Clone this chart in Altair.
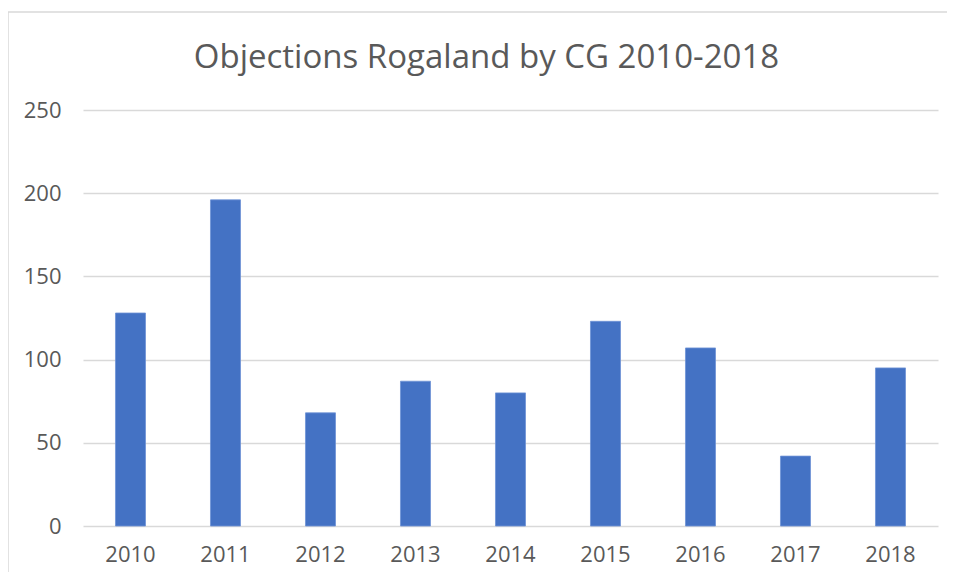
import altair as alt
import pandas as pd

years = ["2010", "2011", "2012", "2013", "2014", "2015", "2016", "2017", "2018"]
objections = [128, 196, 68, 87, 80, 123, 107, 42, 95]

df = pd.DataFrame({"year": years, "objections": objections})

FONT = "Open Sans"
GRAY = "#595959"

bars = alt.Chart(df).mark_bar(color="#4472C4", stroke="#6E93D6", strokeWidth=0.8).encode(
    x=alt.X("year:N", sort=years, title=None,
            scale=alt.Scale(paddingInner=0.684, paddingOuter=0.342),
            axis=alt.Axis(labelAngle=0, labelFont=FONT, labelFontSize=22, labelColor=GRAY,
                          domain=False, ticks=False, labelPadding=18, grid=False)),
    y=alt.Y("objections:Q", title=None,
            scale=alt.Scale(domain=[0, 250], nice=False),
            axis=alt.Axis(values=[0, 50, 100, 150, 200, 250], labelFont=FONT, labelFontSize=22,
                          labelColor=GRAY, domain=False, ticks=False, labelPadding=22,
                          gridColor="#D9D9D9", gridWidth=1.5)),
)

frame_data = alt.Data(values=[{"a": 1}])
left_edge = alt.Chart(frame_data).mark_rule(color="#D9D9D9", strokeWidth=1.5).encode(
    x=alt.value(-75), y=alt.value(-98), y2=alt.value(470)
)
top_edge = alt.Chart(frame_data).mark_rule(color="#D9D9D9", strokeWidth=1.5).encode(
    x=alt.value(-75), x2=alt.value(870), y=alt.value(-98)
)

chart = alt.layer(left_edge, top_edge, bars).properties(
    width=855,
    height=416,
    background="white",
    autosize=alt.AutoSizeParams(type="none"),
    padding={"left": 75, "top": 102, "right": 9, "bottom": 46},
    title=alt.TitleParams("Objections Rogaland by CG 2010-2018", font=FONT, fontSize=33,
                          fontWeight="normal", color=GRAY, anchor="middle", frame="group",
                          baseline="alphabetic", offset=0, dy=90, dx=-24),
).configure_view(strokeWidth=0, stroke="transparent")

chart.save("out.html", embed_options={"renderer": "svg", "actions": False})
